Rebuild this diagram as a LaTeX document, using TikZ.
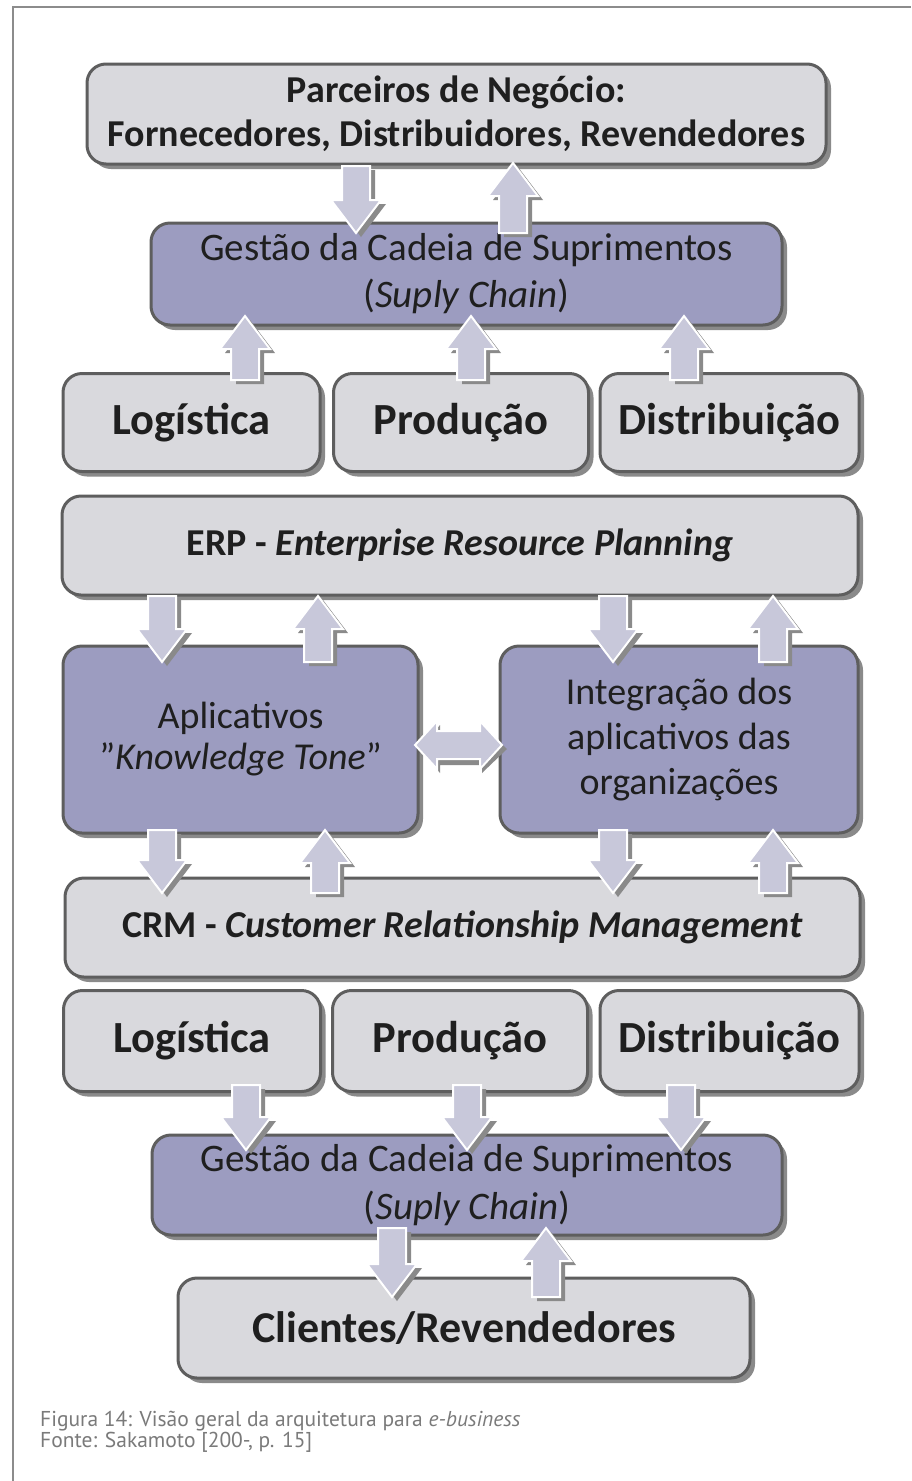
\documentclass[tikz,border=0pt]{standalone}
\usepackage{fontspec}
\setmainfont{Carlito}
\newfontfamily\capfont{PT Sans}
\usetikzlibrary{shadows}
\definecolor{boxgray}{HTML}{D9D9DD}
\definecolor{boxpurp}{HTML}{9C9CC0}
\definecolor{edgec}{HTML}{5E5E5E}
\definecolor{shadc}{HTML}{8A8A8A}
\definecolor{arrc}{HTML}{C8C8DA}
\definecolor{framec}{HTML}{8C8C8C}
\definecolor{capc}{HTML}{7A7A7A}
\newcommand{\dnarr}[3]{%
  \fill[shadc] ({#1-14+5},{#2+4}) -- ({#1+14+5},{#2+4}) -- ({#1+14+5},{#3-33+4}) -- ({#1+25+5},{#3-33+4}) -- ({#1+5},{#3+4}) -- ({#1-25+5},{#3-33+4}) -- ({#1-14+5},{#3-33+4}) -- cycle;
  \filldraw[blk] ({#1-14},{#2}) -- ({#1+14},{#2}) -- ({#1+14},{#3-33}) -- ({#1+25},{#3-33}) -- ({#1},{#3}) -- ({#1-25},{#3-33}) -- ({#1-14},{#3-33}) -- cycle;}
\newcommand{\uparr}[3]{%
  \fill[shadc] ({#1-14+5},{#2+4}) -- ({#1+14+5},{#2+4}) -- ({#1+14+5},{#3+33+4}) -- ({#1+25+5},{#3+33+4}) -- ({#1+5},{#3+4}) -- ({#1-25+5},{#3+33+4}) -- ({#1-14+5},{#3+33+4}) -- cycle;
  \filldraw[blk] ({#1-14},{#2}) -- ({#1+14},{#2}) -- ({#1+14},{#3+33}) -- ({#1+25},{#3+33}) -- ({#1},{#3}) -- ({#1-25},{#3+33}) -- ({#1-14},{#3+33}) -- cycle;}
\begin{document}
\begin{tikzpicture}[x=1pt,y=-1pt,
  box/.style={draw=edgec, line width=3pt, rounded corners=19pt, inner sep=0pt, align=center, text=black!88,
     drop shadow={shadow xshift=5pt, shadow yshift=-5pt, fill=shadc, opacity=1}},
  gbox/.style={box, fill=boxgray},
  pbox/.style={box, fill=boxpurp},
  blk/.style={fill=arrc, draw=white, line width=2pt, line join=miter},
  capt/.style={anchor=base west, inner sep=0pt, text=capc, font=\capfont\fontsize{21.5}{21}\selectfont},
  small/.style={font=\bfseries\fontsize{44.5}{50}\selectfont},
]
\useasboundingbox (0,0) rectangle (911,1481);
\fill[white] (0,0) rectangle (911,1481);
\draw[framec, line width=2pt] (13,1481) -- (13,7) -- (911,7);

% boxes
\node[gbox, minimum width=739pt, minimum height=100pt, font=\bfseries\fontsize{38}{44}\selectfont] (parc) at (456.5,114)
  {Parceiros de Negócio:\\Fornecedores, Distribuidores, Revendedores};
\node[pbox, minimum width=631pt, minimum height=102pt, font=\fontsize{39}{47}\selectfont] (gest1) at (466.5,274)
  {Gestão da Cadeia de Suprimentos\\(\textit{Suply Chain})};
\node[gbox, small, minimum width=257pt, minimum height=98pt] (log1) at (191.5,422.5) {Logística};
\node[gbox, small, minimum width=255pt, minimum height=98pt] (prod1) at (461,422.5) {Produção};
\node[gbox, small, minimum width=259pt, minimum height=98pt] (dist1) at (729.5,422.5) {Distribuição};
\node[gbox, minimum width=796pt, minimum height=99pt, font=\bfseries\fontsize{38}{44}\selectfont] (erp) at (460,545.5)
  {ERP - \textit{Enterprise Resource Planning}};
\node[pbox, minimum width=355pt, minimum height=187pt, font=\fontsize{38}{41}\selectfont] (apl) at (240.5,739.5)
  {Aplicativos\\"\textit{Knowledge Tone}"};
\node[pbox, minimum width=358pt, minimum height=187pt, font=\fontsize{38}{45}\selectfont] (int) at (679,739.5)
  {Integração dos\\aplicativos das\\organizações};
\node[gbox, minimum width=795pt, minimum height=99pt, font=\bfseries\fontsize{38}{44}\selectfont] (crm) at (462.5,927.5)
  {CRM - \textit{Customer Relationship Management}};
\node[gbox, small, minimum width=257pt, minimum height=101pt] (log2) at (192,1041) {Logística};
\node[gbox, small, minimum width=255pt, minimum height=101pt] (prod2) at (460,1041) {Produção};
\node[gbox, small, minimum width=259pt, minimum height=101pt] (dist2) at (729.5,1041) {Distribuição};
\node[pbox, minimum width=630pt, minimum height=100pt, font=\fontsize{39}{48}\selectfont] (gest2) at (467,1185)
  {Gestão da Cadeia de Suprimentos\\(\textit{Suply Chain})};
\node[gbox, minimum width=572pt, minimum height=100pt, font=\bfseries\fontsize{44}{50}\selectfont] (cli) at (464,1328)
  {Clientes/Revendedores};

% block arrows
\dnarr{356}{166}{233}
\uparr{513}{233}{163}
\uparr{245}{380}{316}
\uparr{471}{380}{316}
\uparr{684}{380}{316}
\dnarr{162}{596}{662}
\uparr{318}{662}{596}
\dnarr{613}{596}{662}
\uparr{773}{662}{596}
\dnarr{162}{830}{893}
\uparr{325}{893}{830}
\dnarr{613}{830}{893}
\uparr{773}{893}{830}
\dnarr{246}{1085}{1150}
\dnarr{467}{1085}{1150}
\dnarr{681}{1085}{1150}
\dnarr{392}{1228}{1297}
\uparr{546}{1297}{1228}
% double arrow
\fill[shadc] (420,749) -- (440,725) -- (440,735) -- (482,735) -- (482,725) -- (507,749) -- (482,773) -- (482,765) -- (440,765) -- (440,773) -- cycle;
\filldraw[blk] (415,745) -- (437,721) -- (437,731) -- (480,731) -- (480,721) -- (502,745) -- (480,769) -- (480,759) -- (437,759) -- (437,769) -- cycle;

% caption
\node[capt] (cap1) at (40,1426) {Figura 14: Visão geral da arquitetura para \textit{e-business}};
\node[capt] (cap2) at (40,1447) {Fonte: Sakamoto [200-, p. 15]};
\end{tikzpicture}
\end{document}
